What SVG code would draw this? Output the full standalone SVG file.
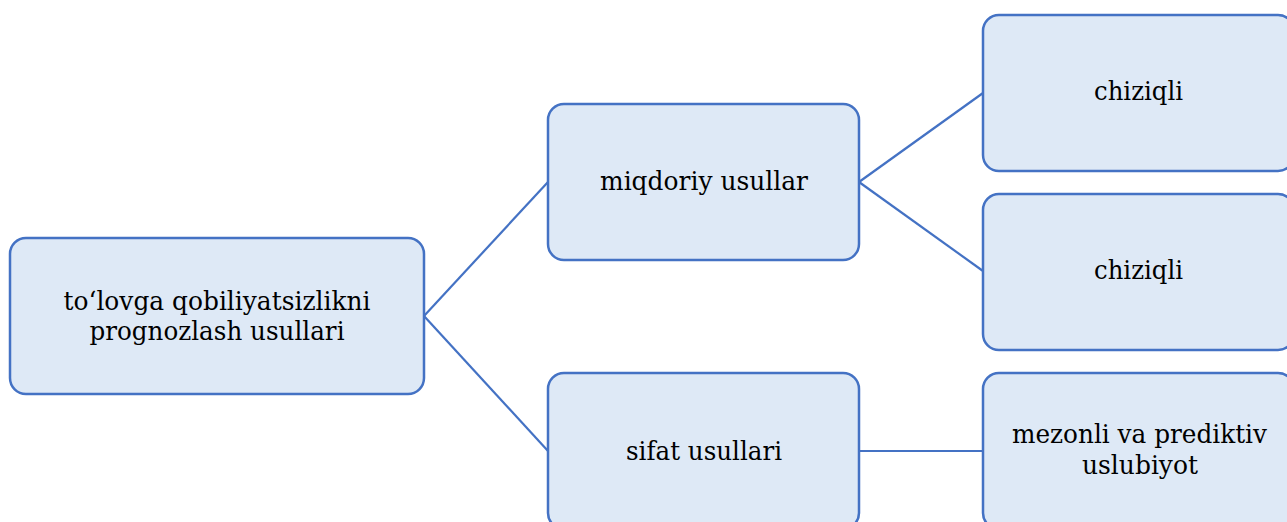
<svg xmlns="http://www.w3.org/2000/svg" width="1287" height="522" viewBox="0 0 1287 522">
  <style>
    .box { fill: #DEE9F6; stroke: #4472C4; stroke-width: 2.5; }
    .link { stroke: #4472C4; stroke-width: 2.2; fill: none; }
    .label { font-family: "DejaVu Serif", "Liberation Serif", serif; font-size: 26px; fill: #000; text-anchor: middle; }
  </style>
  <rect width="1287" height="522" fill="#FFFFFF"/>

  <g id="connectors">
    <line class="link" x1="424" y1="316" x2="548" y2="182"/>
    <line class="link" x1="424" y1="316" x2="548" y2="451"/>
    <line class="link" x1="859" y1="182" x2="983" y2="93"/>
    <line class="link" x1="859" y1="182" x2="983" y2="271"/>
    <line class="link" x1="859" y1="451" x2="983" y2="451"/>
  </g>

  <g id="root">
    <rect class="box" x="10" y="238" width="414" height="156" rx="16"/>
    <text class="label" x="217" y="310" textLength="307" lengthAdjust="spacingAndGlyphs">to‘lovga qobiliyatsizlikni</text>
    <text class="label" x="217" y="340" textLength="255" lengthAdjust="spacingAndGlyphs">prognozlash usullari</text>
  </g>

  <g id="miqdoriy">
    <rect class="box" x="548" y="104" width="311" height="156" rx="16"/>
    <text class="label" x="704" y="190" textLength="208" lengthAdjust="spacingAndGlyphs">miqdoriy usullar</text>
  </g>

  <g id="sifat">
    <rect class="box" x="548" y="373" width="311" height="156" rx="16"/>
    <text class="label" x="704" y="460" textLength="156" lengthAdjust="spacingAndGlyphs">sifat usullari</text>
  </g>

  <g id="chiziqli-1">
    <rect class="box" x="983" y="15" width="311" height="156" rx="16"/>
    <text class="label" x="1138.5" y="100" textLength="89" lengthAdjust="spacingAndGlyphs">chiziqli</text>
  </g>

  <g id="chiziqli-2">
    <rect class="box" x="983" y="194" width="311" height="156" rx="16"/>
    <text class="label" x="1138.5" y="279" textLength="89" lengthAdjust="spacingAndGlyphs">chiziqli</text>
  </g>

  <g id="mezonli">
    <rect class="box" x="983" y="373" width="311" height="156" rx="16"/>
    <text class="label" x="1139.5" y="443" textLength="255" lengthAdjust="spacingAndGlyphs">mezonli va prediktiv</text>
    <text class="label" x="1140" y="474" textLength="116" lengthAdjust="spacingAndGlyphs">uslubiyot</text>
  </g>
</svg>
